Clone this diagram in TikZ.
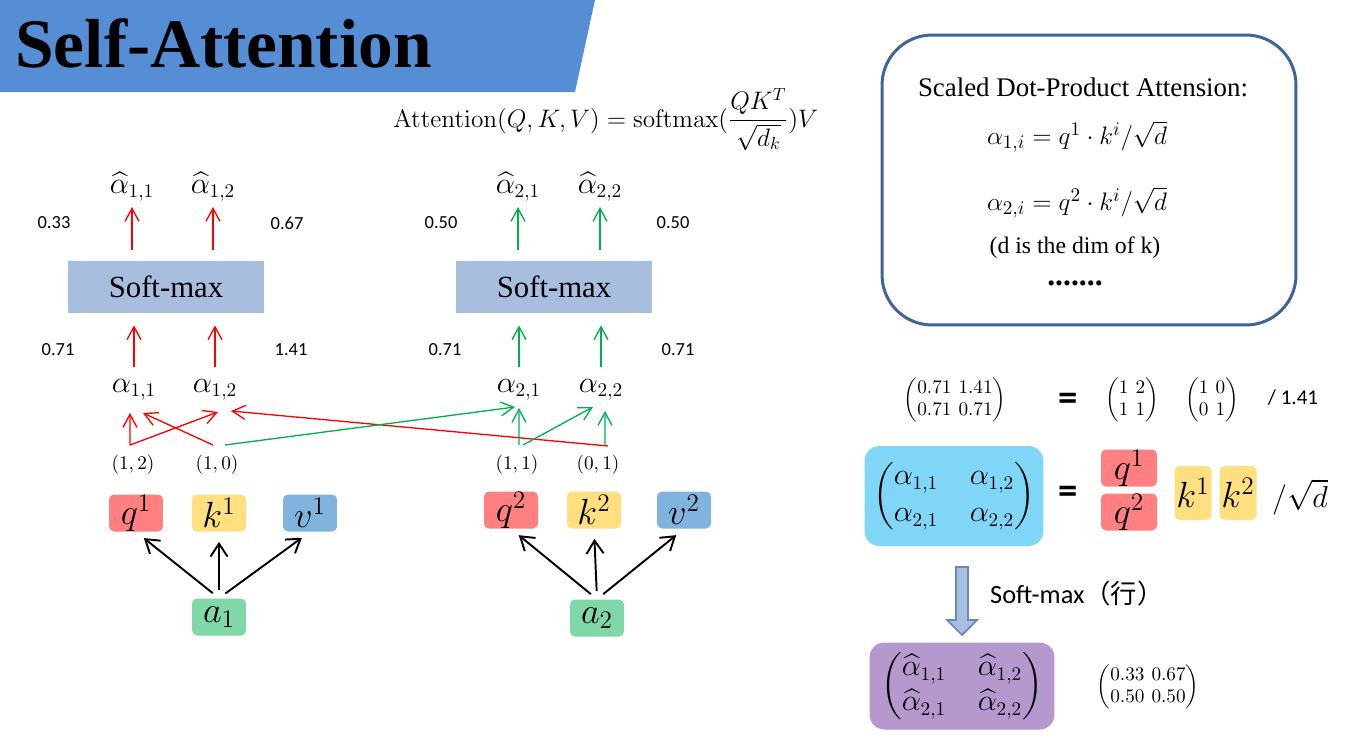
\documentclass[tikz,border=0pt]{standalone}
\usepackage{amsmath}
\usepackage{amssymb}
\usepackage[no-math]{fontspec}
\setmainfont{Liberation Serif}
\newfontfamily\numfont{Carlito}
\newfontfamily\cjkfont{Noto Sans CJK SC}
\usepackage{xcolor}
\usepackage{tikz}
\usetikzlibrary{arrows.meta}

\definecolor{ttlblu}{RGB}{85,142,213}
\definecolor{smblu}{RGB}{167,190,222}
\definecolor{qred}{RGB}{255,128,128}
\definecolor{kyel}{RGB}{255,223,128}
\definecolor{vblu}{RGB}{128,180,222}
\definecolor{agrn}{RGB}{128,216,168}
\definecolor{frmblu}{RGB}{65,100,150}
\definecolor{skyblu}{RGB}{128,214,247}
\definecolor{purp}{RGB}{181,153,206}
\definecolor{arrgrn}{RGB}{0,176,80}
\definecolor{arrbord}{RGB}{105,135,185}

% matriz pequena com parenteses
\newcommand{\tightmat}[1]{{\setlength{\arraycolsep}{2pt}$\left(\begin{matrix}#1\end{matrix}\right)$}}

\tikzset{
  redarr/.style={draw=red, line width=0.75pt, -{Straight Barb[length=2.6mm,width=2.8mm]}},
  grnarr/.style={draw=arrgrn, line width=0.75pt, -{Straight Barb[length=2.6mm,width=2.8mm]}},
  blkarr/.style={line width=1.1pt, -{Straight Barb[length=2.6mm,width=3.4mm]}},
  smbox/.style={fill=smblu, minimum width=39.4mm, minimum height=10.4mm,
                font=\fontsize{17.5}{20}\selectfont},
  vecbox/.style={rounded corners=1mm, minimum width=10.8mm, minimum height=7.4mm,
                 inner sep=0pt, font=\fontsize{20}{24}\selectfont},
  numlbl/.style={font=\numfont\fontsize{10.5}{12}\selectfont},
  alab/.style={anchor=base, inner sep=0pt, font=\fontsize{16}{19}\selectfont},
  pairlbl/.style={anchor=base, inner sep=0pt, font=\fontsize{11}{13}\selectfont},
  eqsign/.style={font=\numfont\bfseries\fontsize{22}{24}\selectfont},
  smat/.style={inner sep=0pt, font=\fontsize{10.5}{12.5}\selectfont}
}

\begin{document}
\begin{tikzpicture}[x=0.02cm, y=-0.02cm]
  \fill[white] (0,0) rectangle (1355,745);
  \useasboundingbox (0,0) rectangle (1355,745);
  % titulo
  \fill[ttlblu] (0,0) -- (595,0) -- (575,92) -- (0,92) -- cycle;
  \node[anchor=base west, inner sep=0pt, font=\bfseries\fontsize{39.5}{44}\selectfont]
    (title) at (15,67) {Self-Attention};
  \node[anchor=base west, inner sep=0pt, font=\fontsize{14.8}{18}\selectfont]
    (attn) at (393,127) {$\displaystyle \mathrm{Attention}(Q,K,V)=\mathrm{softmax}(\frac{QK^T}{\sqrt{d_k}})V$};

  % caixa da definicao
  \node[draw=frmblu, line width=1.7pt, rounded corners=10mm,
        minimum width=82.8mm, minimum height=58mm] (defbox) at (1089,180) {};
  \node[font=\fontsize{15.3}{18}\selectfont] (sdpa) at (1083,87) {Scaled Dot-Product Attension:};
  \node[font=\fontsize{15.5}{18}\selectfont] (eqa) at (1077,137) {$\alpha_{1,i}=q^1\cdot k^i/\sqrt{d}$};
  \node[font=\fontsize{15.5}{18}\selectfont] (eqb) at (1077,203) {$\alpha_{2,i}=q^2\cdot k^i/\sqrt{d}$};
  \node[font=\fontsize{13.5}{16}\selectfont] (dnote) at (1075,248) {(d is the dim of k)};
  \node[font=\bfseries\fontsize{18}{20}\selectfont] (dots) at (1075,283) {.......};

  % vetores q k v
  \node[vecbox, fill=qred] (q1) at (136,513) {$q^1$};
  \node[vecbox, fill=kyel] (k1) at (219,513) {$k^1$};
  \node[vecbox, fill=vblu] (v1) at (310,513) {$v^1$};
  \node[vecbox, fill=agrn] (a1) at (219,617) {$a_1$};
  \node[vecbox, fill=qred] (q2) at (511,510) {$q^2$};
  \node[vecbox, fill=kyel] (k2) at (594,510) {$k^2$};
  \node[vecbox, fill=vblu] (v2) at (684,510) {$v^2$};
  \node[vecbox, fill=agrn] (a2) at (597,618) {$a_2$};
  \foreach \t in {q1,k1,v1}
    \draw[blkarr, shorten <=1.6mm, shorten >=2mm] (a1.north) -- (\t.south);
  \foreach \t in {q2,k2,v2}
    \draw[blkarr, shorten <=1.6mm, shorten >=2mm] (a2.north) -- (\t.south);

  % produtos q.k
  \node[pairlbl] (p12) at (133,469) {$(1,2)$};
  \node[pairlbl] (p10) at (217,469) {$(1,0)$};
  \node[pairlbl] (p11) at (517,469) {$(1,1)$};
  \node[pairlbl] (p01) at (598,469) {$(0,1)$};

  % alfas
  \node[alab] (a11) at (134,392) {$\alpha_{1,1}$};
  \node[alab] (a12) at (215,392) {$\alpha_{1,2}$};
  \node[alab] (a21) at (519,392) {$\alpha_{2,1}$};
  \node[alab] (a22) at (601,392) {$\alpha_{2,2}$};

  \draw[redarr] ([xshift=-0.6mm, yshift=4.8mm]p12.base) -- ([xshift=-0.8mm, yshift=-4.2mm]a11.base);
  \draw[redarr] ([xshift=-0.6mm, yshift=4.8mm]p12.base) -- ([xshift=0.6mm, yshift=-4mm]a12.base);
  \draw[redarr] ([xshift=-0.8mm, yshift=4.8mm]p10.base) -- ([xshift=1.8mm, yshift=-4.2mm]a11.base);
  \draw[redarr] ([xshift=2mm, yshift=4.6mm]p01.base) -- ([xshift=3.2mm, yshift=-3.8mm]a12.base);
  \draw[grnarr] ([xshift=1.6mm, yshift=4.8mm]p10.base) -- ([xshift=-0.8mm, yshift=-3mm]a21.base);
  \draw[grnarr] ([xshift=0.4mm, yshift=4.8mm]p11.base) -- ([yshift=-3.2mm]a21.base);
  \draw[grnarr] ([xshift=1.2mm, yshift=4.8mm]p11.base) -- ([xshift=-1.6mm, yshift=-3mm]a22.base);
  \draw[grnarr] ([xshift=1.4mm, yshift=4.8mm]p01.base) -- ([xshift=0.8mm, yshift=-3.8mm]a22.base);

  % soft-max
  \node[smbox] (sm1) at (166,287) {Soft-max};
  \node[smbox] (sm2) at (554,287) {Soft-max};
  \node[alab] (h11) at (132,193) {$\widehat{\alpha}_{1,1}$};
  \node[alab] (h12) at (213,193) {$\widehat{\alpha}_{1,2}$};
  \node[alab] (h21) at (518,193) {$\widehat{\alpha}_{2,1}$};
  \node[alab] (h22) at (600,193) {$\widehat{\alpha}_{2,2}$};
  \foreach \a/\h in {a11/h11,a12/h12} {
    \draw[redarr, shorten >=2.4mm] ([yshift=5mm]\a.base) -- (\a.base |- sm1.south);
    \draw[redarr, shorten <=2.2mm] (\h.base |- sm1.north) -- ([yshift=-2.8mm]\h.base);
  }
  \foreach \a/\h in {a21/h21,a22/h22} {
    \draw[grnarr, shorten >=2.4mm] ([yshift=5mm]\a.base) -- (\a.base |- sm2.south);
    \draw[grnarr, shorten <=2.2mm] (\h.base |- sm2.north) -- ([yshift=-2.8mm]\h.base);
  }

  % valores
  \node[numlbl] (n33) at (54,223) {0.33};
  \node[numlbl] (n67) at (287,223) {0.67};
  \node[numlbl] (n50a) at (441,223) {0.50};
  \node[numlbl] (n50b) at (673,223) {0.50};
  \node[numlbl] (n71a) at (58,350) {0.71};
  \node[numlbl] (n141) at (291,350) {1.41};
  \node[numlbl] (n71b) at (445,350) {0.71};
  \node[numlbl] (n71c) at (678,350) {0.71};

  % forma matricial
  \node[smat] (mqk) at (955,400) {\tightmat{0.71&1.41\\0.71&0.71}};
  \node[eqsign] (eqs1) at (1068,402) {=};
  \node[smat] (mq) at (1132,400) {\tightmat{1&2\\1&1}};
  \node[smat] (mk) at (1212,400) {\tightmat{1&0\\0&1}};
  \node[font=\numfont\fontsize{12}{14}\selectfont] (dv) at (1293,398) {/ 1.41};

  \node[fill=skyblu, rounded corners=3mm, minimum width=35.8mm, minimum height=20mm,
        font=\fontsize{16}{21}\selectfont] (amat) at (954,496)
    {\setlength{\arraycolsep}{9pt}$\begin{pmatrix}\alpha_{1,1}&\alpha_{1,2}\\\alpha_{2,1}&\alpha_{2,2}\end{pmatrix}$};
  \node[eqsign] (eqs2) at (1068,495) {=};
  \node[vecbox, fill=qred, minimum width=11.2mm] (mq1) at (1129,468) {$q^1$};
  \node[vecbox, fill=qred, minimum width=11.2mm] (mq2) at (1129,512) {$q^2$};
  \node[vecbox, fill=kyel, minimum width=7.4mm, minimum height=10.8mm] (mk1) at (1193,493) {$k^1$};
  \node[vecbox, fill=kyel, minimum width=7.4mm, minimum height=10.8mm] (mk2) at (1238,493) {$k^2$};
  \node[font=\fontsize{17}{20}\selectfont] (sqd) at (1300,497) {$/\sqrt{d}$};

  % seta soft-max
  \draw[draw=arrbord, fill=smblu, line width=1pt]
    (956,567) -- (968,567) -- (968,620) -- (977,620) -- (962,635) -- (947,620) -- (956,620) -- cycle;
  \node[anchor=west, font=\numfont\fontsize{15}{18}\selectfont] (sflbl) at (984,593) {Soft-max{\cjkfont （行）}};

  \node[fill=purp, rounded corners=3mm, minimum width=37mm, minimum height=17.4mm, inner sep=1pt,
        font=\fontsize{16}{20}\selectfont] (hmat) at (962,686)
    {\setlength{\arraycolsep}{9pt}$\begin{pmatrix}\widehat{\alpha}_{1,1}&\widehat{\alpha}_{1,2}\\\widehat{\alpha}_{2,1}&\widehat{\alpha}_{2,2}\end{pmatrix}$};
  \node[smat] (mres) at (1148,687) {\tightmat{0.33&0.67\\0.50&0.50}};
\end{tikzpicture}
\end{document}
